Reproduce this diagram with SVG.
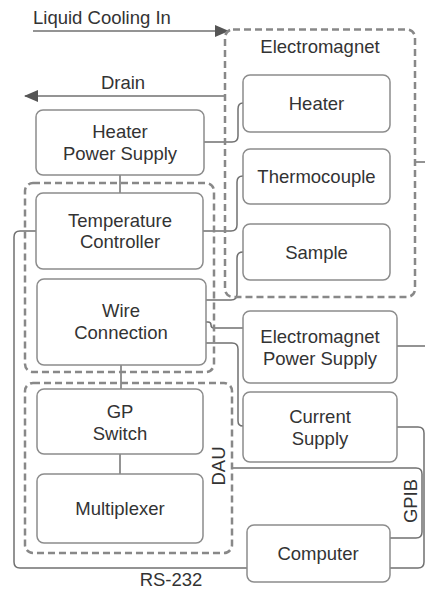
<svg xmlns="http://www.w3.org/2000/svg" width="425" height="589" viewBox="0 0 425 589">
<defs>
<style>
.box{fill:#fff;stroke:#8c8c8c;stroke-width:1.5}
.grp{fill:none;stroke:#888;stroke-width:2.5;stroke-dasharray:7 4}
.ln{fill:none;stroke:#707070;stroke-width:1.5}
text{font-family:"Liberation Sans",Arial,sans-serif;font-size:18.5px;fill:#333;text-anchor:middle}
</style>
<marker id="arr" viewBox="0 0 14 12" refX="13" refY="6" markerWidth="14" markerHeight="12" markerUnits="userSpaceOnUse" orient="auto">
<path d="M0,0 L14,6 L0,12 Z" fill="#555"/>
</marker>
</defs>
<rect width="425" height="589" fill="#fff"/>
<g id="connectors">
<path class="ln" d="M33,31 H228" marker-end="url(#arr)"/>
<path class="ln" d="M225,96 H25" marker-end="url(#arr)"/>
<path class="ln" d="M204,142 H232 Q238,142 238,136 V109 Q238,103 243,103"/>
<path class="ln" d="M120,175 V193"/>
<path class="ln" d="M203,231 H231 Q237,231 237,225 V182 Q237,176 243,176"/>
<path class="ln" d="M206,300 H231 Q237,300 237,294 V258 Q237,252 243,252"/>
<path class="ln" d="M206,322 H208 Q211,322 211,325 Q211,328 214,328 H243"/>
<path class="ln" d="M206,343 H232 Q238,343 238,349 V421 Q238,426 243,426"/>
<path class="ln" d="M397,346 H428 V162 H415"/>
<path class="ln" d="M121,365 V389"/>
<path class="ln" d="M120,454 V474"/>
<path class="ln" d="M36,231 H20 Q14,231 14,237 V562 Q14,568 20,568 H247"/>
<path class="ln" d="M397,427 H418 Q424,427 424,433 V562 Q424,568 418,568 H390"/>
<path class="ln" d="M232,468 H416 Q422,468 422,474 V532 Q422,538 416,538 H390"/>
</g>
<g id="electromagnet">
<rect class="grp" x="225" y="29.5" width="190" height="267.5" rx="8"/>
<text x="320" y="53">Electromagnet</text>
</g>
<g id="tc-group">
<rect class="grp" x="25" y="183" width="189" height="189" rx="8"/>
</g>
<g id="dau">
<rect class="grp" x="25" y="383" width="207" height="170" rx="8"/>
<text transform="translate(218,466) rotate(-90)" x="0" y="6.6">DAU</text>
</g>
<g id="labels">
<text x="33" y="24" style="text-anchor:start">Liquid Cooling In</text>
<text x="123" y="89">Drain</text>
<text x="171" y="586">RS-232</text>
<text transform="translate(410,501) rotate(-90)" x="0" y="6.6">GPIB</text>
</g>
<g id="heater">
<rect class="box" x="243" y="75" width="147" height="57" rx="7"/>
<text x="316.5" y="110">Heater</text>
</g>
<g id="thermocouple">
<rect class="box" x="243" y="149" width="147" height="55" rx="7"/>
<text x="316.5" y="183">Thermocouple</text>
</g>
<g id="sample">
<rect class="box" x="243" y="224" width="147" height="56" rx="7"/>
<text x="316.5" y="259">Sample</text>
</g>
<g id="heater-power-supply">
<rect class="box" x="36" y="110" width="168" height="65" rx="7"/>
<text x="120" y="138">Heater</text>
<text x="120" y="160">Power Supply</text>
</g>
<g id="temperature-controller">
<rect class="box" x="36" y="193" width="167" height="76" rx="7"/>
<text x="120" y="227">Temperature</text>
<text x="120" y="248">Controller</text>
</g>
<g id="wire-connection">
<rect class="box" x="37" y="279" width="169" height="86" rx="7"/>
<text x="121" y="317">Wire</text>
<text x="121" y="339">Connection</text>
</g>
<g id="em-power-supply">
<rect class="box" x="243" y="311" width="154" height="72" rx="7"/>
<text x="320" y="343">Electromagnet</text>
<text x="320" y="365">Power Supply</text>
</g>
<g id="gp-switch">
<rect class="box" x="37" y="389" width="166" height="65" rx="7"/>
<text x="120" y="418">GP</text>
<text x="120" y="440">Switch</text>
</g>
<g id="current-supply">
<rect class="box" x="243" y="392" width="154" height="70" rx="7"/>
<text x="320" y="423">Current</text>
<text x="320" y="445">Supply</text>
</g>
<g id="multiplexer">
<rect class="box" x="37" y="474" width="166" height="69" rx="7"/>
<text x="120" y="515">Multiplexer</text>
</g>
<g id="computer">
<rect class="box" x="247" y="525" width="143" height="57" rx="7"/>
<text x="318" y="560">Computer</text>
</g>
</svg>
